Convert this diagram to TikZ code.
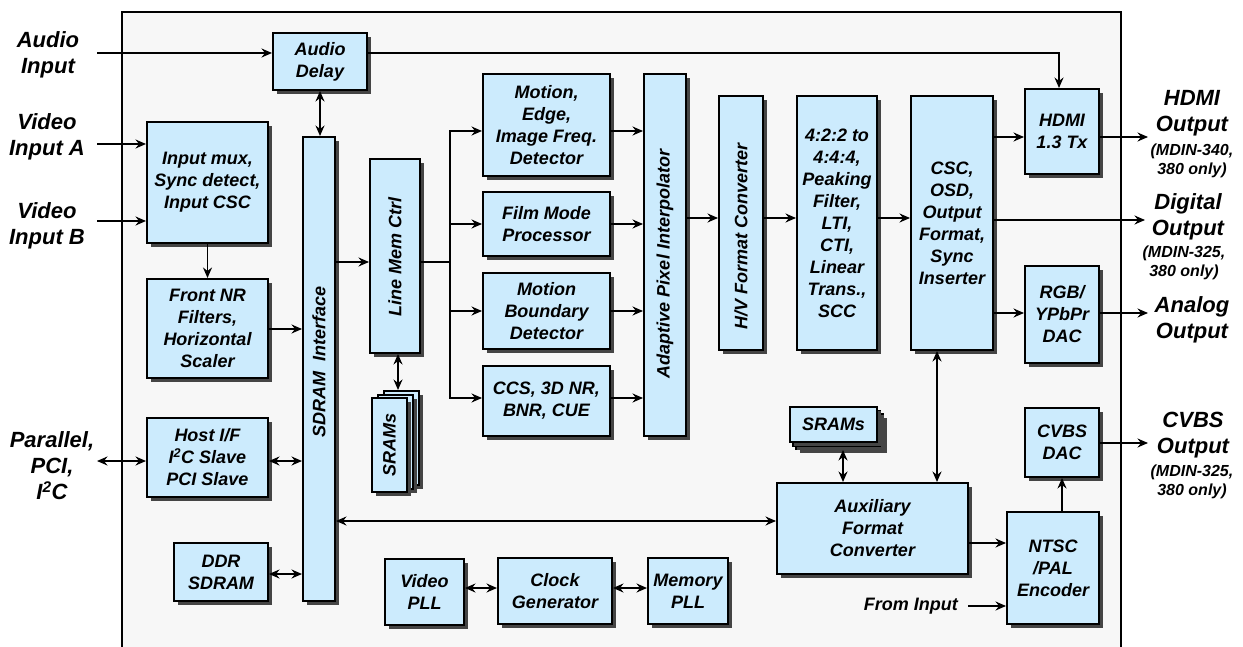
\documentclass[tikz,border=0pt]{standalone}
\usepackage{fontspec}
\setmainfont{Liberation Sans}
\usetikzlibrary{arrows.meta,shadows}
\definecolor{blockfill}{HTML}{CCEBFD}
\definecolor{chipbg}{HTML}{F7F7F7}
\definecolor{shadowgray}{HTML}{454545}
\begin{document}
\begin{tikzpicture}[x=1pt,y=-1pt,
  blk/.style={draw=black,line width=2pt,fill=blockfill,inner sep=0pt,align=center,
    font=\bfseries\itshape\fontsize{18}{22}\selectfont,
    general shadow={fill=shadowgray,shadow xshift=4pt,shadow yshift=-4pt}},
  vlabel/.style={rotate=90,inner sep=0pt,font=\bfseries\itshape\fontsize{18}{22}\selectfont},
  biglabel/.style={align=center,inner sep=0pt,font=\bfseries\itshape\fontsize{22}{26}\selectfont},
  smalllabel/.style={align=center,inner sep=0pt,font=\bfseries\itshape\fontsize{16}{19}\selectfont},
  plainlabel/.style={inner sep=0pt,font=\bfseries\itshape\fontsize{18}{22}\selectfont},
  wire/.style={line width=1.7pt},
  tip/.tip={Stealth[length=10.5pt,width=9pt,inset=3.5pt]},
  arr/.style={wire,-tip},
  darr/.style={wire,tip-tip},
]
\useasboundingbox (0,0) rectangle (1243,647);
\clip (0,0) rectangle (1243,647);
\fill[white] (0,0) rectangle (1243,647);

% chip outline (open towards the bottom edge)
\draw[line width=2.5pt,fill=chipbg] (122,12) rectangle (1121,700);

% ---------- input side ----------
\node[blk,minimum width=94pt,minimum height=57pt] (adelay) at (320,61.5) {Audio\\Delay};
\node[blk,minimum width=121pt,minimum height=121pt] (mux) at (207.5,182.5) {Input mux,\\Sync detect,\\Input CSC};
\node[blk,minimum width=121pt,minimum height=99pt] (fnr) at (207.5,328.5) {Front NR\\Filters,\\Horizontal\\Scaler};
\node[blk,minimum width=121pt,minimum height=79pt] (host) at (207.5,457.5) {Host I/F\\I\textsuperscript{2}C Slave\\PCI Slave};
\node[blk,minimum width=94pt,minimum height=58pt] (ddr) at (221,572) {DDR\\SDRAM};
\node[blk,minimum width=32pt,minimum height=464pt] (sdram) at (319,369) {};
\node[vlabel] (sdramtxt) at (319,362) {SDRAM~~Interface};
\node[blk,minimum width=50pt,minimum height=194pt] (lmc) at (395,256) {};
\node[vlabel] (lmctxt) at (395,257) {Line Mem Ctrl};

% stacked line-memory SRAMs
\node[blk,minimum width=35pt,minimum height=94pt] (sramA3) at (401.5,438) {};
\node[blk,minimum width=35pt,minimum height=94pt] (sramA2) at (395.5,441.5) {};
\node[blk,minimum width=35pt,minimum height=94pt] (sramA) at (389.5,445) {};
\node[vlabel] (sramAtxt) at (sramA) {SRAMs};

% ---------- de-interlacing core ----------
\node[blk,minimum width=127pt,minimum height=102pt] (med) at (546.5,125) {Motion,\\Edge,\\Image Freq.\\Detector};
\node[blk,minimum width=127pt,minimum height=64pt] (film) at (546.5,224) {Film Mode\\Processor};
\node[blk,minimum width=127pt,minimum height=76pt] (mbd) at (546.5,311) {Motion\\Boundary\\Detector};
\node[blk,minimum width=127pt,minimum height=70pt] (ccs) at (546.5,401) {CCS, 3D NR,\\BNR, CUE};
\node[blk,minimum width=42pt,minimum height=362pt] (api) at (665,255) {};
\node[vlabel] (apitxt) at (665,264) {Adaptive Pixel Interpolator};
\node[blk,minimum width=44pt,minimum height=254pt] (hv) at (741,223) {};
\node[vlabel] (hvtxt) at (741,236) {H/V Format Converter};
\node[blk,minimum width=80pt,minimum height=254pt] (pk) at (837,223) {4:2:2 to\\4:4:4,\\Peaking\\Filter,\\LTI,\\CTI,\\Linear\\Trans.,\\SCC};
\node[blk,minimum width=82pt,minimum height=254pt] (csc) at (952,223) {CSC,\\OSD,\\Output\\Format,\\Sync\\Inserter};

% ---------- output side ----------
\node[blk,minimum width=74pt,minimum height=85pt] (hdmi) at (1062,131.5) {HDMI\\1.3 Tx};
\node[blk,minimum width=74pt,minimum height=97pt] (rgb) at (1062,314.5) {RGB/\\YPbPr\\DAC};
\node[blk,minimum width=74pt,minimum height=69pt] (cvbs) at (1062,442.5) {CVBS\\DAC};
\node[blk,minimum width=92pt,minimum height=112pt] (ntsc) at (1053,568) {NTSC\\/PAL\\Encoder};
\node[blk,minimum width=191pt,minimum height=91pt] (aux) at (872.5,528.5) {Auxiliary\\Format\\Converter};

% stacked auxiliary SRAMs
\node[blk,minimum width=87pt,minimum height=35pt] (sramB3) at (839.5,431.5) {};
\node[blk,minimum width=87pt,minimum height=35pt] (sramB2) at (836.5,428) {};
\node[blk,minimum width=87pt,minimum height=35pt] (sramB) at (833.5,424.5) {SRAMs};

% ---------- clocking ----------
\node[blk,minimum width=79pt,minimum height=66pt] (vpll) at (424.5,592) {Video\\PLL};
\node[blk,minimum width=114pt,minimum height=66pt] (clk) at (555,591) {Clock\\Generator};
\node[blk,minimum width=80pt,minimum height=66pt] (mpll) at (688,591) {Memory\\PLL};

% ---------- external labels ----------
\node[biglabel] (ain) at (48,55) {Audio\\Input};
\node[biglabel] (vina) at (47,137) {Video\\Input A};
\node[biglabel] (vinb) at (47,226) {Video\\Input B};
\node[biglabel] (par) at (52,466) {Parallel,\\PCI,\\I\textsuperscript{2}C};
\node[biglabel] (hdmiout) at (1192,113.5) {HDMI\\Output};
\node[smalllabel] (hdmiouts) at (1192,160.5) {(MDIN-340,\\380 only)};
\node[biglabel] (digout) at (1188,217) {Digital\\Output};
\node[smalllabel] (digouts) at (1184,263) {(MDIN-325,\\380 only)};
\node[biglabel] (anaout) at (1192,320) {Analog\\Output};
\node[biglabel] (cvbsout) at (1193,435) {CVBS\\Output};
\node[smalllabel] (cvbsouts) at (1192,482) {(MDIN-325,\\380 only)};
\node[plainlabel,anchor=east] (fromin) at (958,606) {From Input};

% free connector ends
\coordinate (ainE) at (97,53);
\coordinate (vinaE) at (97,144);
\coordinate (vinbE) at (97,221);
\coordinate (parE) at (97,461);
\coordinate (hdmioutW) at (1148,137);
\coordinate (digoutW) at (1145,220);
\coordinate (anaoutW) at (1148,313);
\coordinate (cvbsoutW) at (1148,443);
\coordinate (frominE) at (968,606);
\coordinate (bus) at (450,262);

% ---------- connectors ----------
\draw[arr] (ainE) -- (adelay.west |- ainE);
\draw[arr] (adelay.east |- ainE) -| (1059,0 |- hdmi.north);
\draw[arr] (vinaE) -- (mux.west |- vinaE);
\draw[arr] (vinbE) -- (mux.west |- vinbE);
\draw[arr] (mux.south) -- (fnr.north);
\draw[darr] (320,0 |- adelay.south) -- (320,0 |- sdram.north);
\draw[arr] (fnr.east |- 0,329) -- (sdram.west |- 0,329);
\draw[darr] (parE) -- (host.west |- parE);
\draw[darr] (host.east |- parE) -- (sdram.west |- parE);
\draw[darr] (ddr.east |- 0,574) -- (sdram.west |- 0,574);
\draw[darr] (sdram.east |- 0,521) -- (aux.west |- 0,521);
\draw[arr] (sdram.east |- bus) -- (lmc.west |- bus);
\draw[darr] (398,0 |- lmc.south) -- (398,0 |- sramA3.north);

\draw[wire] (lmc.east |- bus) -- (bus);
\draw[arr] (bus) |- (med.west |- 0,131);
\draw[arr] (bus) |- (film.west |- 0,224);
\draw[arr] (bus) |- (mbd.west |- 0,311);
\draw[arr] (bus) |- (ccs.west |- 0,398);

\draw[arr] (med.east |- 0,131) -- (api.west |- 0,131);
\draw[arr] (film.east |- 0,224) -- (api.west |- 0,224);
\draw[arr] (mbd.east |- 0,311) -- (api.west |- 0,311);
\draw[arr] (ccs.east |- 0,398) -- (api.west |- 0,398);

\draw[arr] (api.east |- 0,218) -- (hv.west |- 0,218);
\draw[arr] (hv.east |- 0,218) -- (pk.west |- 0,218);
\draw[arr] (pk.east |- 0,218) -- (csc.west |- 0,218);

\draw[arr] (csc.east |- hdmioutW) -- (hdmi.west |- hdmioutW);
\draw[arr] (csc.east |- digoutW) -- (digoutW);
\draw[arr] (csc.east |- anaoutW) -- (rgb.west |- anaoutW);
\draw[arr] (hdmi.east |- hdmioutW) -- (hdmioutW);
\draw[arr] (rgb.east |- anaoutW) -- (anaoutW);
\draw[arr] (cvbs.east |- cvbsoutW) -- (cvbsoutW);

\draw[darr] (937,0 |- csc.south) -- (937,0 |- aux.north);
\draw[darr] (843,0 |- sramB3.south) -- (843,0 |- aux.north);
\draw[arr] (aux.east |- 0,543) -- (ntsc.west |- 0,543);
\draw[arr] (1062,0 |- ntsc.north) -- (1062,0 |- cvbs.south);
\draw[arr] (frominE) -- (ntsc.west |- frominE);

\draw[darr] (vpll.east |- 0,588) -- (clk.west |- 0,588);
\draw[darr] (clk.east |- 0,588) -- (mpll.west |- 0,588);
\end{tikzpicture}
\end{document}
